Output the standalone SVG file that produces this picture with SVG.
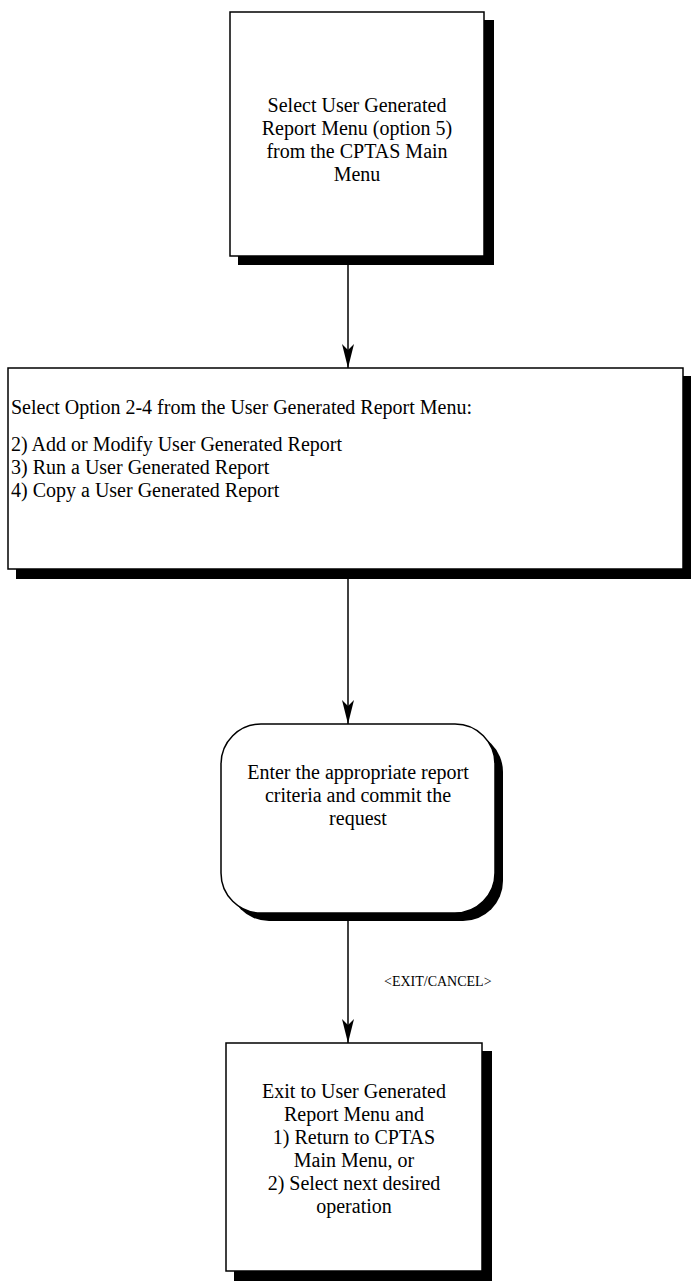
<svg xmlns="http://www.w3.org/2000/svg" width="696" height="1285" viewBox="0 0 696 1285">
<defs>
<style>
.box{fill:#fff;stroke:#000;stroke-width:1.5}
.sh{fill:#000}
.t{font-family:"Liberation Serif",serif;font-size:20px;fill:#000}
.c{text-anchor:middle}
.lbl{font-family:"Liberation Serif",serif;font-size:14px;fill:#000}
.ln{stroke:#000;stroke-width:1.5;fill:none}
</style>
<marker id="ah" markerWidth="24" markerHeight="12" refX="24" refY="6" orient="auto" markerUnits="userSpaceOnUse" viewBox="0 0 24 12">
<path d="M0,0 L6,6 L0,12 L24,6 Z" fill="#000"/>
</marker>
</defs>
<g id="connectors">
<line class="ln" x1="348" y1="256" x2="348" y2="368" marker-end="url(#ah)"/>
<line class="ln" x1="348" y1="578" x2="348" y2="724" marker-end="url(#ah)"/>
<line class="ln" x1="348" y1="914" x2="348" y2="1043" marker-end="url(#ah)"/>
<text class="lbl" x="384" y="986">&lt;EXIT/CANCEL&gt;</text>
</g>
<g id="node1">
<rect class="sh" x="238" y="20" width="256" height="245"/>
<rect class="box" x="230" y="12" width="254" height="244"/>
<text class="t c" x="357" y="112">Select User Generated</text>
<text class="t c" x="357" y="135">Report Menu (option 5)</text>
<text class="t c" x="357" y="158">from the CPTAS Main</text>
<text class="t c" x="357" y="181">Menu</text>
</g>
<g id="node2">
<rect class="sh" x="16" y="376" width="675" height="203"/>
<rect class="box" x="8" y="368" width="675" height="201"/>
<text class="t" x="11" y="414">Select Option 2-4 from the User Generated Report Menu:</text>
<text class="t" x="11" y="451">2) Add or Modify User Generated Report</text>
<text class="t" x="11" y="474">3) Run a User Generated Report</text>
<text class="t" x="11" y="497">4) Copy a User Generated Report</text>
</g>
<g id="node3">
<rect class="sh" x="229" y="732" width="274" height="189" rx="40"/>
<rect class="box" x="221" y="724" width="274" height="189" rx="40"/>
<text class="t c" x="358" y="779">Enter the appropriate report</text>
<text class="t c" x="358" y="802">criteria and commit the</text>
<text class="t c" x="358" y="825">request</text>
</g>
<g id="node4">
<rect class="sh" x="234" y="1051" width="258" height="230"/>
<rect class="box" x="226" y="1043" width="256" height="228"/>
<text class="t c" x="354" y="1098">Exit to User Generated</text>
<text class="t c" x="354" y="1121">Report Menu and</text>
<text class="t c" x="354" y="1144">1) Return to CPTAS</text>
<text class="t c" x="354" y="1167">Main Menu, or</text>
<text class="t c" x="354" y="1190">2) Select next desired</text>
<text class="t c" x="354" y="1213">operation</text>
</g>
</svg>
